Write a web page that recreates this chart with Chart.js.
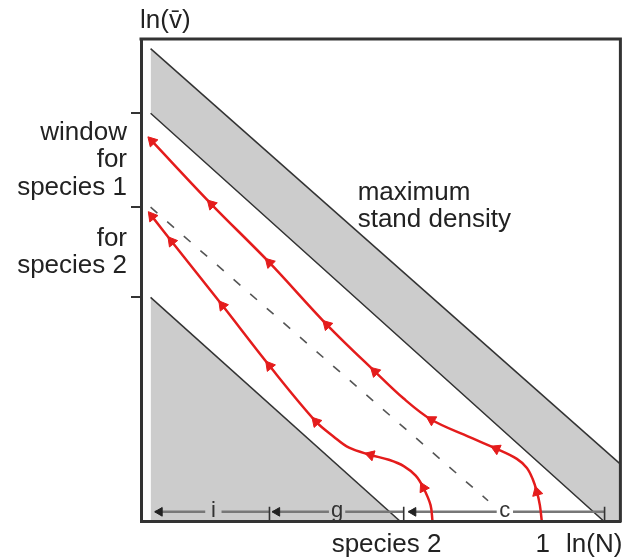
<!DOCTYPE html>
<html lang="en">
<head>
<meta charset="UTF-8" />
<title>Self-thinning windows for two species</title>
<script src="https://cdn.jsdelivr.net/npm/chart.js"></script>
<style>
  html, body { margin: 0; padding: 0; background: #fff; }
  #wrap { width: 629px; height: 559px; }
</style>
</head>
<body>
<div id="wrap"><canvas id="chart"></canvas></div>
<script>
  // ln(N) on x, ln(mean v) on y, arbitrary units 0..10
  const xRange = [0, 10];
  const yRange = [0, 10];

  // y-axis: window boundaries and the text between them
  const windowTicks = [4.64, 6.51, 8.46];
  const windowMids = [7.49, 5.57];
  const windowText = [['window', 'for', 'species 1'], ['for', 'species 2']];

  // grey zones (maximum stand density band, lower-left triangle)
  const bandUpper = [[0.2, 9.8], [10, 1.18]];
  const bandLower = [[0.2, 8.46], [9.65, 0], [10, 0]];
  const lowerZone = [[0.2, 4.64], [5.4, 0]];
  const dashedLine = [[0.2, 6.51], [7.24, 0.42]];

  // trajectories, from start (bottom) to end (top left)
  const species1 = [[8.36, 0.00], [8.32, 0.33], [8.26, 0.60], [8.17, 0.87], [8.05, 1.10],
    [7.84, 1.29], [7.41, 1.50], [6.83, 1.75], [6.06, 2.10], [5.48, 2.54], [4.88, 3.10],
    [3.88, 4.07], [2.68, 5.36], [1.47, 6.57], [0.23, 7.88]];
  const species1Arrows = [2, 6, 8, 10, 11, 12, 13, 14];
  const species2 = [[6.08, 0.00], [6.04, 0.33], [5.89, 0.69], [5.73, 0.94], [5.48, 1.14],
    [5.17, 1.27], [4.79, 1.37], [4.34, 1.52], [4.02, 1.75], [3.65, 2.06], [2.68, 3.22],
    [1.70, 4.47], [0.64, 5.80], [0.23, 6.32]];
  const species2Arrows = [2, 6, 9, 10, 11, 12, 13];

  // phase spans along the bottom (i, g, c)
  const dimY = 0.19;
  const dimLabels = ['i', 'g', 'c'];
  const dimStarts = [2.68, 5.48, 9.67];
  const dimEnds = [0.29, 2.74, 5.58];
  const dimLabelAt = [1.51, 4.09, 7.59];

  const densityLabelAt = [4.52, 6.67];

  const frame = '#333333';
  const red = '#e41c1c';
  const shade = '#cccccc';
  const font = '"Liberation Sans", Arial, sans-serif';

  const pts = arr => arr.map(([x, y]) => ({ x, y }));

  function arrowAngle(c) {
    const d = c.dataset.data, i = c.dataIndex;
    const a = d[Math.max(i - 1, 0)], b = d[Math.min(i + 1, d.length - 1)];
    const sx = c.chart.scales.x, sy = c.chart.scales.y;
    const dx = sx.getPixelForValue(b.x) - sx.getPixelForValue(a.x);
    const dy = sy.getPixelForValue(b.y) - sy.getPixelForValue(a.y);
    return Math.atan2(dx, -dy) * 180 / Math.PI;
  }

  function curve(data, arrows) {
    return {
      data: pts(data),
      borderColor: red,
      borderWidth: 2.5,
      tension: 0.35,
      fill: false,
      pointStyle: 'triangle',
      pointRadius: c => arrows.includes(c.dataIndex) ? 6 : 0,
      pointBackgroundColor: red,
      pointBorderColor: red,
      pointBorderWidth: 1,
      pointRotation: arrowAngle
    };
  }

  function plainLine(data, extra) {
    return Object.assign({ data: pts(data), borderColor: frame, borderWidth: 1.5, pointRadius: 0, fill: false, tension: 0 }, extra);
  }

  const gap = 0.17;
  const dimDatasets = dimLabels.map((_, k) => plainLine([
    [dimStarts[k], dimY], [dimLabelAt[k] + gap, dimY], [dimLabelAt[k], null],
    [dimLabelAt[k] - gap, dimY], [dimEnds[k], dimY]
  ], { borderColor: '#777', borderWidth: 2.5, spanGaps: false }));

  const dimHeads = {
    data: dimEnds.map(x => ({ x: x + 0.1, y: dimY })),
    showLine: false,
    pointStyle: 'triangle',
    pointRadius: 5,
    pointRotation: -90,
    pointBackgroundColor: '#222',
    pointBorderColor: '#222',
    pointBorderWidth: 1
  };
  const dimBars = {
    data: dimStarts.map(x => ({ x, y: dimY - 0.04 })),
    showLine: false,
    pointStyle: 'line',
    pointRadius: 7,
    pointRotation: 90,
    pointBorderColor: '#333',
    pointBorderWidth: 1.6
  };

  const textPlugin = {
    id: 'texts',
    afterDatasetsDraw(chart) {
      const { ctx, chartArea: a, scales: { x, y } } = chart;
      ctx.save();
      ctx.strokeStyle = frame;
      ctx.lineWidth = 3;
      ctx.beginPath();
      ctx.moveTo(a.left - 1.5, a.top);
      ctx.lineTo(a.right, a.top);
      ctx.lineTo(a.right, a.bottom + 1.5);
      ctx.stroke();

      ctx.fillStyle = '#222';
      ctx.font = '26px ' + font;
      ctx.textBaseline = 'alphabetic';
      ctx.textAlign = 'left';
      ctx.fillText('ln(v\u0304)', a.left - 1, a.top - 11);
      ctx.fillText('maximum', x.getPixelForValue(densityLabelAt[0]), y.getPixelForValue(densityLabelAt[1]));
      ctx.fillText('stand density', x.getPixelForValue(densityLabelAt[0]), y.getPixelForValue(densityLabelAt[1]) + 27);

      const base = a.bottom + 31;
      ctx.textAlign = 'right';
      ctx.fillText('species 2', x.getPixelForValue(species2[0][0]) + 9, base);
      ctx.fillText('ln(N)', a.right + 2, base);
      ctx.textAlign = 'center';
      ctx.fillText('1', x.getPixelForValue(species1[0][0]) + 1, base);

      ctx.font = '22px ' + font;
      ctx.fillStyle = '#333';
      dimLabels.forEach((t, k) => {
        ctx.fillText(t, x.getPixelForValue(dimLabelAt[k]), y.getPixelForValue(dimY) + 5);
      });
      ctx.restore();
    }
  };

  new Chart(document.getElementById('chart'), {
    type: 'line',
    data: {
      datasets: [
        curve(species1, species1Arrows),
        curve(species2, species2Arrows),
        dimHeads,
        dimBars,
        ...dimDatasets,
        plainLine(dashedLine, { borderColor: '#555', borderWidth: 1.6, borderDash: [9, 13] }),
        plainLine(lowerZone, { fill: 'start', backgroundColor: shade }),
        plainLine(bandLower),
        plainLine(bandUpper, { fill: '-1', backgroundColor: shade })
      ]
    },
    options: {
      responsive: true,
      maintainAspectRatio: false,
      animation: false,
      layout: { padding: { top: 39, right: 6, bottom: 38, left: 0 } },
      plugins: {
        legend: { display: false },
        tooltip: { enabled: false },
        filler: { propagate: false, drawTime: 'beforeDatasetsDraw' }
      },
      scales: {
        x: {
          type: 'linear',
          min: xRange[0],
          max: xRange[1],
          ticks: { display: false },
          grid: { display: false },
          border: { display: true, color: frame, width: 3, z: 1 },
          afterFit: s => { s.height = 0; }
        },
        y: {
          type: 'linear',
          min: yRange[0],
          max: yRange[1],
          afterBuildTicks: s => {
            s.ticks = windowTicks.concat(windowMids).sort((p, q) => p - q).map(v => ({ value: v }));
          },
          afterFit: s => { s.width = 141; },
          grid: {
            drawOnChartArea: false,
            tickLength: 10,
            lineWidth: 2,
            color: c => c.tick && windowTicks.includes(c.tick.value) ? frame : 'rgba(0,0,0,0)'
          },
          border: { display: true, color: frame, width: 3, z: 1 },
          ticks: {
            autoSkip: false,
            padding: 4,
            color: '#222',
            font: { family: font, size: 26, lineHeight: 1.06 },
            callback: v => {
              const k = windowMids.indexOf(v);
              return k >= 0 ? windowText[k] : '';
            }
          }
        }
      }
    },
    plugins: [textPlugin]
  });
</script>
</body>
</html>
